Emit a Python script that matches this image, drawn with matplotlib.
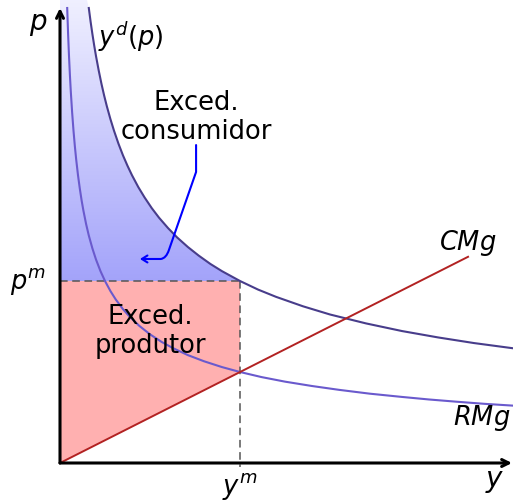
import numpy as np
import matplotlib
matplotlib.use("Agg")
import matplotlib.pyplot as plt
from matplotlib.path import Path
from matplotlib.patches import Polygon, FancyArrowPatch

plt.rcParams['mathtext.fontset'] = 'dejavusans'
plt.rcParams['font.family'] = ['DejaVu Sans']

# Data (units: y_m = 1, p_m = 1)
demand_y = [0.16, 0.17, 0.18, 0.19, 0.2, 0.215, 0.23, 0.245, 0.26, 0.28, 0.3, 0.325,
            0.35, 0.375, 0.4, 0.435, 0.47, 0.51, 0.55, 0.6, 0.65, 0.71, 0.77, 0.835,
            0.9, 1.0, 1.1, 1.2, 1.35, 1.5, 1.7, 1.9, 2.1, 2.3, 2.52]
demand_p = [2.500, 2.425, 2.357, 2.294, 2.236, 2.157, 2.085, 2.020, 1.961, 1.890,
            1.826, 1.754, 1.690, 1.633, 1.581, 1.516, 1.459, 1.400, 1.348, 1.291,
            1.240, 1.187, 1.140, 1.094, 1.054, 1.000, 0.953, 0.913, 0.861, 0.816,
            0.767, 0.725, 0.690, 0.659, 0.630]
rmg_y = [0.04, 0.045, 0.05, 0.055, 0.06, 0.0675, 0.075, 0.0825, 0.09, 0.1, 0.11, 0.12,
         0.13, 0.145, 0.16, 0.18, 0.2, 0.225, 0.25, 0.28, 0.31, 0.35, 0.39, 0.44, 0.5,
         0.565, 0.63, 0.71, 0.8, 0.9, 1.0, 1.12, 1.25, 1.4, 1.55, 1.72, 1.9, 2.05,
         2.2, 2.36, 2.52]
rmg_p = [2.5, 2.357, 2.236, 2.132, 2.041, 1.925, 1.826, 1.741, 1.667, 1.581, 1.508,
         1.443, 1.387, 1.313, 1.25, 1.179, 1.118, 1.054, 1.0, 0.945, 0.898, 0.845,
         0.801, 0.754, 0.707, 0.665, 0.630, 0.593, 0.559, 0.527, 0.5, 0.472, 0.447,
         0.423, 0.402, 0.381, 0.363, 0.349, 0.337, 0.325, 0.315]
cmg_y = [0.0, 2.267]
cmg_p = [0.0, 1.133]
y_m = 1.0
p_m = 1.0
cmg_at_ym = 0.5

fig = plt.figure(figsize=(5.13, 5.03), dpi=100)
ax = fig.add_axes([0, 0, 1, 1])
ax.set_xlim(-60 / 180, 453 / 180)
ax.set_ylim(-40 / 182, 463 / 182)
ax.axis('off')

top = 463 / 182
# consumer surplus gradient
cs_pts = [(0, p_m), (y_m, p_m)]
for xv, pv in reversed(list(zip(demand_y, demand_p))):
    if xv <= y_m:
        cs_pts.append((xv, pv))
cs_pts += [(0.15, top), (0, top)]
poly = Polygon(cs_pts, closed=True, facecolor='none', edgecolor='none')
ax.add_patch(poly)
n = 256
t = np.linspace(0, 1, n)[:, None]
c0 = np.array([0.64, 0.64, 0.98])
c1 = np.array([0.94, 0.94, 1.0])
grad = (c0[None, None, :] * (1 - t[:, :, None]) + c1[None, None, :] * t[:, :, None])
grad = np.repeat(grad, 2, axis=1)
im = ax.imshow(grad, extent=[0, y_m, p_m, top], origin='lower', aspect='auto', zorder=1)
im.set_clip_path(poly)

# producer surplus
ps = Polygon([(0, 0), (0, p_m), (y_m, p_m), (y_m, cmg_at_ym)], closed=True,
             facecolor='#ffb0b0', edgecolor='none', zorder=1)
ax.add_patch(ps)

# dashed lines
ax.plot([0, y_m], [p_m, p_m], ls=(0, (5, 3)), color='#555555', lw=1.1, zorder=2)
ax.plot([y_m, y_m], [p_m, -0.02], ls=(0, (5, 3)), color='#555555', lw=1.1, zorder=2)

# curves
ax.plot(demand_y, demand_p, color='#483d8b', lw=1.5, zorder=3, solid_joinstyle='round')
ax.plot(rmg_y, rmg_p, color='#6a5acd', lw=1.5, zorder=3, solid_joinstyle='round')
ax.plot(cmg_y, cmg_p, color='#b22222', lw=1.4, zorder=3)

# axes arrows
ax.annotate('', xy=(452 / 180, 0), xytext=(0, 0),
            arrowprops=dict(arrowstyle='->,head_length=0.5,head_width=0.25', lw=2.2, color='black',
                            shrinkA=0, shrinkB=0), zorder=5)
ax.annotate('', xy=(0, 455 / 182), xytext=(0, 0),
            arrowprops=dict(arrowstyle='->,head_length=0.5,head_width=0.25', lw=2.2, color='black',
                            shrinkA=0, shrinkB=0), zorder=5)

# pointer arrow
verts = [(0.756, 1.747), (0.756, 1.599), (0.605, 1.170), (0.590, 1.125), (0.560, 1.121), (0.444, 1.121)]
codes = [Path.MOVETO, Path.LINETO, Path.LINETO, Path.CURVE3, Path.CURVE3, Path.LINETO]
arr = FancyArrowPatch(path=Path(verts, codes), arrowstyle='->,head_length=4,head_width=2.5',
                      color='#0000ff', lw=1.5, zorder=6)
ax.add_patch(arr)

fs = 18.5
ax.text(-0.122, 2.41, r'$p$', fontsize=20, ha='center', va='center')
ax.text(0.394, 2.34, r'$y^d(p)$', fontsize=fs, ha='center', va='center')
ax.text(0.756, 1.9, 'Exced.\nconsumidor', fontsize=fs, ha='center', va='center', linespacing=1.15)
ax.text(0.5, 0.725, 'Exced.\nprodutor', fontsize=fs, ha='center', va='center', linespacing=1.15)
ax.text(-0.178, 0.995, r'$p^m$', fontsize=fs, ha='center', va='center')
ax.text(1.0, -0.13, r'$y^m$', fontsize=fs, ha='center', va='center')
ax.text(2.417, -0.10, r'$y$', fontsize=20, ha='center', va='center')
ax.text(2.267, 1.209, r'$CMg$', fontsize=fs, ha='center', va='center')
ax.text(2.344, 0.247, r'$RMg$', fontsize=fs, ha='center', va='center')

fig.savefig('out.png', dpi=100)
